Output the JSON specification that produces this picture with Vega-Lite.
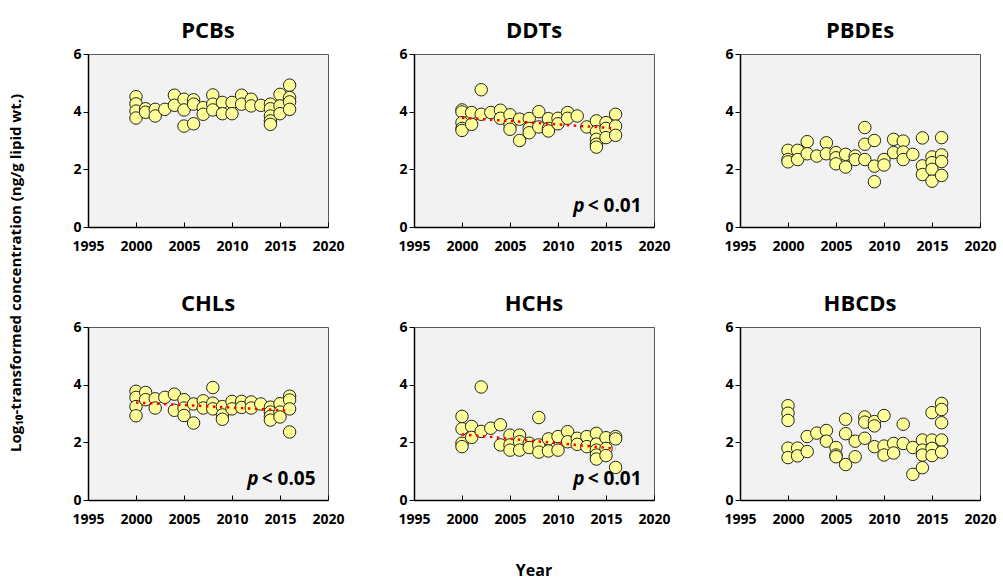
{
  "$schema": "https://vega.github.io/schema/vega-lite/v6.json",
  "padding": {"left": 8, "top": 19, "right": 5, "bottom": 2},
  "background": "#ffffff",
  "datasets": {
    "panels": [
      {"g": "PCBs", "r": 1, "c": 1},
      {"g": "DDTs", "r": 1, "c": 2},
      {"g": "PBDEs", "r": 1, "c": 3},
      {"g": "CHLs", "r": 2, "c": 1},
      {"g": "HCHs", "r": 2, "c": 2},
      {"g": "HBCDs", "r": 2, "c": 3}
    ],
    "obs": [
      {"g": "PCBs", "kind": "title"}, {"g": "DDTs", "kind": "title"}, {"g": "PBDEs", "kind": "title"},
      {"g": "CHLs", "kind": "title"}, {"g": "HCHs", "kind": "title"}, {"g": "HBCDs", "kind": "title"},
      {"g": "DDTs", "kind": "pval", "p": "< 0.01"},
      {"g": "CHLs", "kind": "pval", "p": "< 0.05"},
      {"g": "HCHs", "kind": "pval", "p": "< 0.01"},
      {"g": "DDTs", "kind": "trend", "year": 2000, "v": 3.79}, {"g": "DDTs", "kind": "trend", "year": 2016, "v": 3.42},
      {"g": "CHLs", "kind": "trend", "year": 2000, "v": 3.38}, {"g": "CHLs", "kind": "trend", "year": 2016, "v": 3.10},
      {"g": "HCHs", "kind": "trend", "year": 2000, "v": 2.28}, {"g": "HCHs", "kind": "trend", "year": 2016, "v": 1.78},

      {"g": "PCBs", "year": 2000, "v": 4.52}, {"g": "PCBs", "year": 2000, "v": 4.27}, {"g": "PCBs", "year": 2000, "v": 4.02}, {"g": "PCBs", "year": 2000, "v": 3.78},
      {"g": "PCBs", "year": 2001, "v": 4.10}, {"g": "PCBs", "year": 2001, "v": 3.98},
      {"g": "PCBs", "year": 2002, "v": 4.08}, {"g": "PCBs", "year": 2002, "v": 3.85},
      {"g": "PCBs", "year": 2003, "v": 4.08},
      {"g": "PCBs", "year": 2004, "v": 4.57}, {"g": "PCBs", "year": 2004, "v": 4.22},
      {"g": "PCBs", "year": 2005, "v": 4.43}, {"g": "PCBs", "year": 2005, "v": 4.06}, {"g": "PCBs", "year": 2005, "v": 3.50},
      {"g": "PCBs", "year": 2006, "v": 4.41}, {"g": "PCBs", "year": 2006, "v": 4.26}, {"g": "PCBs", "year": 2006, "v": 3.58},
      {"g": "PCBs", "year": 2007, "v": 4.14}, {"g": "PCBs", "year": 2007, "v": 3.91},
      {"g": "PCBs", "year": 2008, "v": 4.58}, {"g": "PCBs", "year": 2008, "v": 4.26}, {"g": "PCBs", "year": 2008, "v": 4.06},
      {"g": "PCBs", "year": 2009, "v": 4.32}, {"g": "PCBs", "year": 2009, "v": 3.93},
      {"g": "PCBs", "year": 2010, "v": 4.32}, {"g": "PCBs", "year": 2010, "v": 3.93},
      {"g": "PCBs", "year": 2011, "v": 4.57}, {"g": "PCBs", "year": 2011, "v": 4.26},
      {"g": "PCBs", "year": 2012, "v": 4.43}, {"g": "PCBs", "year": 2012, "v": 4.20},
      {"g": "PCBs", "year": 2013, "v": 4.22},
      {"g": "PCBs", "year": 2014, "v": 4.26}, {"g": "PCBs", "year": 2014, "v": 4.10}, {"g": "PCBs", "year": 2014, "v": 3.85}, {"g": "PCBs", "year": 2014, "v": 3.68}, {"g": "PCBs", "year": 2014, "v": 3.56},
      {"g": "PCBs", "year": 2015, "v": 4.60}, {"g": "PCBs", "year": 2015, "v": 4.20}, {"g": "PCBs", "year": 2015, "v": 3.93},
      {"g": "PCBs", "year": 2016, "v": 4.92}, {"g": "PCBs", "year": 2016, "v": 4.49}, {"g": "PCBs", "year": 2016, "v": 4.34}, {"g": "PCBs", "year": 2016, "v": 4.08},

      {"g": "DDTs", "year": 2000, "v": 4.06}, {"g": "DDTs", "year": 2000, "v": 3.99}, {"g": "DDTs", "year": 2000, "v": 3.62}, {"g": "DDTs", "year": 2000, "v": 3.42}, {"g": "DDTs", "year": 2000, "v": 3.35},
      {"g": "DDTs", "year": 2001, "v": 3.97}, {"g": "DDTs", "year": 2001, "v": 3.56},
      {"g": "DDTs", "year": 2002, "v": 4.76}, {"g": "DDTs", "year": 2002, "v": 3.91},
      {"g": "DDTs", "year": 2003, "v": 3.97},
      {"g": "DDTs", "year": 2004, "v": 4.05}, {"g": "DDTs", "year": 2004, "v": 3.77},
      {"g": "DDTs", "year": 2005, "v": 3.89}, {"g": "DDTs", "year": 2005, "v": 3.55}, {"g": "DDTs", "year": 2005, "v": 3.39},
      {"g": "DDTs", "year": 2006, "v": 3.74}, {"g": "DDTs", "year": 2006, "v": 3.00},
      {"g": "DDTs", "year": 2007, "v": 3.76}, {"g": "DDTs", "year": 2007, "v": 3.42}, {"g": "DDTs", "year": 2007, "v": 3.27},
      {"g": "DDTs", "year": 2008, "v": 4.00}, {"g": "DDTs", "year": 2008, "v": 3.47},
      {"g": "DDTs", "year": 2009, "v": 3.76}, {"g": "DDTs", "year": 2009, "v": 3.42}, {"g": "DDTs", "year": 2009, "v": 3.33},
      {"g": "DDTs", "year": 2010, "v": 3.77}, {"g": "DDTs", "year": 2010, "v": 3.58},
      {"g": "DDTs", "year": 2011, "v": 3.97}, {"g": "DDTs", "year": 2011, "v": 3.77},
      {"g": "DDTs", "year": 2012, "v": 3.85},
      {"g": "DDTs", "year": 2013, "v": 3.47},
      {"g": "DDTs", "year": 2014, "v": 3.68}, {"g": "DDTs", "year": 2014, "v": 3.31}, {"g": "DDTs", "year": 2014, "v": 3.04}, {"g": "DDTs", "year": 2014, "v": 2.87}, {"g": "DDTs", "year": 2014, "v": 2.77},
      {"g": "DDTs", "year": 2015, "v": 3.62}, {"g": "DDTs", "year": 2015, "v": 3.42}, {"g": "DDTs", "year": 2015, "v": 3.10},
      {"g": "DDTs", "year": 2016, "v": 3.91}, {"g": "DDTs", "year": 2016, "v": 3.50}, {"g": "DDTs", "year": 2016, "v": 3.18},

      {"g": "PBDEs", "year": 2000, "v": 2.66}, {"g": "PBDEs", "year": 2000, "v": 2.34}, {"g": "PBDEs", "year": 2000, "v": 2.26},
      {"g": "PBDEs", "year": 2001, "v": 2.66}, {"g": "PBDEs", "year": 2001, "v": 2.34},
      {"g": "PBDEs", "year": 2002, "v": 2.96}, {"g": "PBDEs", "year": 2002, "v": 2.54},
      {"g": "PBDEs", "year": 2003, "v": 2.46},
      {"g": "PBDEs", "year": 2004, "v": 2.92}, {"g": "PBDEs", "year": 2004, "v": 2.54},
      {"g": "PBDEs", "year": 2005, "v": 2.58}, {"g": "PBDEs", "year": 2005, "v": 2.40}, {"g": "PBDEs", "year": 2005, "v": 2.19},
      {"g": "PBDEs", "year": 2006, "v": 2.52}, {"g": "PBDEs", "year": 2006, "v": 2.08},
      {"g": "PBDEs", "year": 2007, "v": 2.46}, {"g": "PBDEs", "year": 2007, "v": 2.34},
      {"g": "PBDEs", "year": 2008, "v": 3.45}, {"g": "PBDEs", "year": 2008, "v": 2.87}, {"g": "PBDEs", "year": 2008, "v": 2.34},
      {"g": "PBDEs", "year": 2009, "v": 3.00}, {"g": "PBDEs", "year": 2009, "v": 2.11}, {"g": "PBDEs", "year": 2009, "v": 1.57},
      {"g": "PBDEs", "year": 2010, "v": 2.34}, {"g": "PBDEs", "year": 2010, "v": 2.15},
      {"g": "PBDEs", "year": 2011, "v": 3.04}, {"g": "PBDEs", "year": 2011, "v": 2.58},
      {"g": "PBDEs", "year": 2012, "v": 2.98}, {"g": "PBDEs", "year": 2012, "v": 2.60}, {"g": "PBDEs", "year": 2012, "v": 2.34},
      {"g": "PBDEs", "year": 2013, "v": 2.52},
      {"g": "PBDEs", "year": 2014, "v": 3.09}, {"g": "PBDEs", "year": 2014, "v": 2.12}, {"g": "PBDEs", "year": 2014, "v": 1.82},
      {"g": "PBDEs", "year": 2015, "v": 2.43}, {"g": "PBDEs", "year": 2015, "v": 2.23}, {"g": "PBDEs", "year": 2015, "v": 2.00}, {"g": "PBDEs", "year": 2015, "v": 1.59},
      {"g": "PBDEs", "year": 2016, "v": 3.10}, {"g": "PBDEs", "year": 2016, "v": 2.50}, {"g": "PBDEs", "year": 2016, "v": 2.27}, {"g": "PBDEs", "year": 2016, "v": 1.79},

      {"g": "CHLs", "year": 2000, "v": 3.77}, {"g": "CHLs", "year": 2000, "v": 3.56}, {"g": "CHLs", "year": 2000, "v": 3.24}, {"g": "CHLs", "year": 2000, "v": 2.92},
      {"g": "CHLs", "year": 2001, "v": 3.73}, {"g": "CHLs", "year": 2001, "v": 3.48},
      {"g": "CHLs", "year": 2002, "v": 3.51}, {"g": "CHLs", "year": 2002, "v": 3.19},
      {"g": "CHLs", "year": 2003, "v": 3.56},
      {"g": "CHLs", "year": 2004, "v": 3.67}, {"g": "CHLs", "year": 2004, "v": 3.11},
      {"g": "CHLs", "year": 2005, "v": 3.48}, {"g": "CHLs", "year": 2005, "v": 3.19}, {"g": "CHLs", "year": 2005, "v": 2.93},
      {"g": "CHLs", "year": 2006, "v": 3.33}, {"g": "CHLs", "year": 2006, "v": 2.67},
      {"g": "CHLs", "year": 2007, "v": 3.44}, {"g": "CHLs", "year": 2007, "v": 3.19},
      {"g": "CHLs", "year": 2008, "v": 3.90}, {"g": "CHLs", "year": 2008, "v": 3.36}, {"g": "CHLs", "year": 2008, "v": 3.16},
      {"g": "CHLs", "year": 2009, "v": 3.24}, {"g": "CHLs", "year": 2009, "v": 2.95}, {"g": "CHLs", "year": 2009, "v": 2.80},
      {"g": "CHLs", "year": 2010, "v": 3.42}, {"g": "CHLs", "year": 2010, "v": 3.16},
      {"g": "CHLs", "year": 2011, "v": 3.42}, {"g": "CHLs", "year": 2011, "v": 3.21},
      {"g": "CHLs", "year": 2012, "v": 3.40}, {"g": "CHLs", "year": 2012, "v": 3.19},
      {"g": "CHLs", "year": 2013, "v": 3.33},
      {"g": "CHLs", "year": 2014, "v": 3.22}, {"g": "CHLs", "year": 2014, "v": 3.05}, {"g": "CHLs", "year": 2014, "v": 2.90}, {"g": "CHLs", "year": 2014, "v": 2.77},
      {"g": "CHLs", "year": 2015, "v": 3.34}, {"g": "CHLs", "year": 2015, "v": 3.05}, {"g": "CHLs", "year": 2015, "v": 2.88},
      {"g": "CHLs", "year": 2016, "v": 3.60}, {"g": "CHLs", "year": 2016, "v": 3.47}, {"g": "CHLs", "year": 2016, "v": 3.16}, {"g": "CHLs", "year": 2016, "v": 2.36},

      {"g": "HCHs", "year": 2000, "v": 2.90}, {"g": "HCHs", "year": 2000, "v": 2.47}, {"g": "HCHs", "year": 2000, "v": 1.97}, {"g": "HCHs", "year": 2000, "v": 1.85},
      {"g": "HCHs", "year": 2001, "v": 2.55}, {"g": "HCHs", "year": 2001, "v": 2.17},
      {"g": "HCHs", "year": 2002, "v": 3.92}, {"g": "HCHs", "year": 2002, "v": 2.38},
      {"g": "HCHs", "year": 2003, "v": 2.49},
      {"g": "HCHs", "year": 2004, "v": 2.61}, {"g": "HCHs", "year": 2004, "v": 1.91},
      {"g": "HCHs", "year": 2005, "v": 2.25}, {"g": "HCHs", "year": 2005, "v": 1.91}, {"g": "HCHs", "year": 2005, "v": 1.73},
      {"g": "HCHs", "year": 2006, "v": 2.25}, {"g": "HCHs", "year": 2006, "v": 2.02}, {"g": "HCHs", "year": 2006, "v": 1.73},
      {"g": "HCHs", "year": 2007, "v": 1.97}, {"g": "HCHs", "year": 2007, "v": 1.82},
      {"g": "HCHs", "year": 2008, "v": 2.86}, {"g": "HCHs", "year": 2008, "v": 1.91}, {"g": "HCHs", "year": 2008, "v": 1.66},
      {"g": "HCHs", "year": 2009, "v": 2.12}, {"g": "HCHs", "year": 2009, "v": 1.70},
      {"g": "HCHs", "year": 2010, "v": 2.20}, {"g": "HCHs", "year": 2010, "v": 1.73},
      {"g": "HCHs", "year": 2011, "v": 2.37}, {"g": "HCHs", "year": 2011, "v": 2.02},
      {"g": "HCHs", "year": 2012, "v": 2.14}, {"g": "HCHs", "year": 2012, "v": 1.93},
      {"g": "HCHs", "year": 2013, "v": 2.20}, {"g": "HCHs", "year": 2013, "v": 1.85},
      {"g": "HCHs", "year": 2014, "v": 2.31}, {"g": "HCHs", "year": 2014, "v": 1.94}, {"g": "HCHs", "year": 2014, "v": 1.73}, {"g": "HCHs", "year": 2014, "v": 1.56}, {"g": "HCHs", "year": 2014, "v": 1.42},
      {"g": "HCHs", "year": 2015, "v": 2.16}, {"g": "HCHs", "year": 2015, "v": 1.79}, {"g": "HCHs", "year": 2015, "v": 1.54},
      {"g": "HCHs", "year": 2016, "v": 2.20}, {"g": "HCHs", "year": 2016, "v": 2.12}, {"g": "HCHs", "year": 2016, "v": 1.13},

      {"g": "HBCDs", "year": 2000, "v": 3.27}, {"g": "HBCDs", "year": 2000, "v": 3.01}, {"g": "HBCDs", "year": 2000, "v": 2.76}, {"g": "HBCDs", "year": 2000, "v": 1.80}, {"g": "HBCDs", "year": 2000, "v": 1.47},
      {"g": "HBCDs", "year": 2001, "v": 1.80}, {"g": "HBCDs", "year": 2001, "v": 1.53},
      {"g": "HBCDs", "year": 2002, "v": 2.20}, {"g": "HBCDs", "year": 2002, "v": 1.68},
      {"g": "HBCDs", "year": 2003, "v": 2.32},
      {"g": "HBCDs", "year": 2004, "v": 2.41}, {"g": "HBCDs", "year": 2004, "v": 2.04},
      {"g": "HBCDs", "year": 2005, "v": 1.82}, {"g": "HBCDs", "year": 2005, "v": 1.56}, {"g": "HBCDs", "year": 2005, "v": 1.50},
      {"g": "HBCDs", "year": 2006, "v": 2.80}, {"g": "HBCDs", "year": 2006, "v": 2.30}, {"g": "HBCDs", "year": 2006, "v": 1.23},
      {"g": "HBCDs", "year": 2007, "v": 2.04}, {"g": "HBCDs", "year": 2007, "v": 1.50},
      {"g": "HBCDs", "year": 2008, "v": 2.88}, {"g": "HBCDs", "year": 2008, "v": 2.70}, {"g": "HBCDs", "year": 2008, "v": 2.14},
      {"g": "HBCDs", "year": 2009, "v": 2.72}, {"g": "HBCDs", "year": 2009, "v": 2.57}, {"g": "HBCDs", "year": 2009, "v": 1.85},
      {"g": "HBCDs", "year": 2010, "v": 2.93}, {"g": "HBCDs", "year": 2010, "v": 1.87}, {"g": "HBCDs", "year": 2010, "v": 1.56},
      {"g": "HBCDs", "year": 2011, "v": 1.96}, {"g": "HBCDs", "year": 2011, "v": 1.63},
      {"g": "HBCDs", "year": 2012, "v": 2.63}, {"g": "HBCDs", "year": 2012, "v": 1.96},
      {"g": "HBCDs", "year": 2013, "v": 1.82}, {"g": "HBCDs", "year": 2013, "v": 0.89},
      {"g": "HBCDs", "year": 2014, "v": 2.08}, {"g": "HBCDs", "year": 2014, "v": 1.73}, {"g": "HBCDs", "year": 2014, "v": 1.56}, {"g": "HBCDs", "year": 2014, "v": 1.12},
      {"g": "HBCDs", "year": 2015, "v": 3.03}, {"g": "HBCDs", "year": 2015, "v": 2.08}, {"g": "HBCDs", "year": 2015, "v": 1.79}, {"g": "HBCDs", "year": 2015, "v": 1.54},
      {"g": "HBCDs", "year": 2016, "v": 3.35}, {"g": "HBCDs", "year": 2016, "v": 3.14}, {"g": "HBCDs", "year": 2016, "v": 2.68}, {"g": "HBCDs", "year": 2016, "v": 2.08}, {"g": "HBCDs", "year": 2016, "v": 1.66}
    ]
  },
  "data": {"name": "obs"},
  "transform": [
    {"lookup": "g", "from": {"data": {"name": "panels"}, "key": "g", "fields": ["r", "c"]}}
  ],
  "facet": {
    "row": {
      "field": "r", "type": "ordinal",
      "header": {
        "labels": false,
        "title": "Log₁₀-transformed concentration (ng/g lipid wt.)",
        "titleFont": "Open Sans", "titleFontWeight": "bold", "titleFontSize": 15,
        "titleColor": "#000000", "titlePadding": 54
      }
    },
    "column": {
      "field": "c", "type": "ordinal",
      "header": {
        "labels": false,
        "title": "Year", "titleOrient": "bottom",
        "titleFont": "Open Sans", "titleFontWeight": "bold", "titleFontSize": 16,
        "titleColor": "#000000", "titlePadding": 53
      }
    }
  },
  "bounds": "flush",
  "spacing": {"row": 100, "column": 86},
  "resolve": {"axis": {"x": "independent", "y": "independent"}},
  "spec": {
    "width": 240,
    "height": 173,
    "encoding": {
      "x": {
        "type": "quantitative",
        "scale": {"domain": [1995, 2020], "nice": false, "zero": false},
        "axis": {"values": [1995, 2000, 2005, 2010, 2015, 2020], "format": "d", "tickSize": -5, "labelPadding": 17, "labelFlush": false, "labelOverlap": false}
      },
      "y": {
        "type": "quantitative",
        "scale": {"domain": [0, 6], "nice": false},
        "axis": {"values": [0, 2, 4, 6], "tickSize": 5, "labelPadding": 2}
      }
    },
    "layer": [
      {
        "transform": [{"filter": "!datum.kind"}],
        "mark": {"type": "circle", "size": 155, "fill": "#ffff99", "stroke": "#222222", "strokeWidth": 1, "opacity": 1},
        "encoding": {
          "x": {"field": "year", "type": "quantitative"},
          "y": {"field": "v", "type": "quantitative"}
        }
      },
      {
        "transform": [{"filter": "datum.kind == 'trend'"}],
        "mark": {"type": "line", "color": "#ff0000", "strokeWidth": 2.5, "strokeDash": [2.5, 4.5]},
        "encoding": {
          "x": {"field": "year", "type": "quantitative"},
          "y": {"field": "v", "type": "quantitative"}
        }
      },
      {
        "transform": [{"filter": "datum.kind == 'title'"}],
        "mark": {"type": "text", "font": "Open Sans", "fontWeight": "bold", "fontSize": 22, "color": "#000000", "baseline": "middle", "align": "center", "dy": -23},
        "encoding": {
          "x": {"datum": 2007.5, "type": "quantitative"},
          "y": {"datum": 6, "type": "quantitative"},
          "text": {"field": "g"}
        }
      },
      {
        "transform": [{"filter": "datum.kind == 'pval'"}],
        "mark": {"type": "text", "font": "Open Sans", "fontWeight": "bold", "fontStyle": "italic", "fontSize": 19, "color": "#000000", "baseline": "middle", "align": "left"},
        "encoding": {
          "x": {"datum": 2011.6, "type": "quantitative"},
          "y": {"datum": 0.72, "type": "quantitative"},
          "text": {"value": "p"}
        }
      },
      {
        "transform": [{"filter": "datum.kind == 'pval'"}],
        "mark": {"type": "text", "font": "Open Sans", "fontWeight": "bold", "fontSize": 19, "color": "#000000", "baseline": "middle", "align": "left"},
        "encoding": {
          "x": {"datum": 2013.1, "type": "quantitative"},
          "y": {"datum": 0.72, "type": "quantitative"},
          "text": {"field": "p"}
        }
      }
    ]
  },
  "config": {
    "font": "Open Sans",
    "view": {"fill": "#f2f2f2", "stroke": "#595959", "strokeWidth": 1},
    "axis": {
      "grid": false,
      "title": null,
      "domainColor": "#000000",
      "domainWidth": 1.5,
      "tickColor": "#000000",
      "tickWidth": 1,
      "labelFont": "Open Sans",
      "labelFontWeight": "bold",
      "labelFontSize": 14,
      "labelColor": "#000000"
    }
  }
}
